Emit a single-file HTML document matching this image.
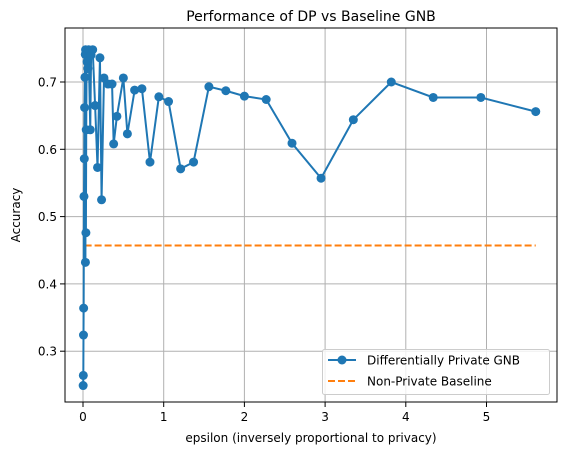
<!DOCTYPE html>
<html><head><meta charset="utf-8"><style>
body{margin:0;background:#fff;font-family:"Liberation Sans","DejaVu Sans",sans-serif}
svg text{font-family:"DejaVu Sans","Liberation Sans",sans-serif;fill:#000}
</style></head><body>
<svg id="c" width="567" height="455" viewBox="0 0 567 455"></svg>
<script>
const epsilon=[0.002,0.004,0.006,0.008,0.012,0.016,0.02,0.024,0.028,0.03,0.032,0.036,0.04,0.045,0.05,0.06,0.07,0.09,0.1,0.12,0.15,0.18,0.21,0.23,0.26,0.31,0.36,0.38,0.42,0.5,0.55,0.64,0.73,0.83,0.94,1.06,1.21,1.37,1.56,1.77,2.0,2.27,2.59,2.95,3.35,3.82,4.34,4.93,5.61];
const accuracy=[0.249,0.264,0.324,0.364,0.53,0.586,0.662,0.707,0.741,0.432,0.748,0.476,0.629,0.745,0.73,0.72,0.748,0.629,0.74,0.748,0.665,0.573,0.736,0.525,0.706,0.697,0.697,0.608,0.649,0.706,0.623,0.688,0.690,0.581,0.678,0.671,0.571,0.581,0.693,0.687,0.679,0.674,0.609,0.557,0.644,0.700,0.677,0.677,0.656];
const baseline=0.457;
const baseRange=[0.02,5.61];
const xTicks=[0,1,2,3,4,5];
const yTicks=[0.3,0.4,0.5,0.6,0.7];
const L=65,R=557,T=28,B=402;
const X=v=>83+v*80.7;
const Y=v=>82-(v-0.7)*673;
const s=document.getElementById('c');
const NS='http://www.w3.org/2000/svg';
function mk(t,a,p){const e=document.createElementNS(NS,t);for(const k in a)e.setAttribute(k,a[k]);(p||s).appendChild(e);return e;}
const grid=mk('g',{});


xTicks.forEach(v=>{mk('line',{x1:X(v),x2:X(v),y1:T,y2:B,stroke:'#b0b0b0','stroke-width':1},grid);
 mk('line',{x1:X(v),x2:X(v),y1:B,y2:B+5,stroke:'#000','stroke-width':1},grid);
 const t=mk('text',{x:X(v),y:B+19,'text-anchor':'middle','font-size':12});t.textContent=v;
 
 });
yTicks.forEach(v=>{mk('line',{x1:L,x2:R,y1:Y(v),y2:Y(v),stroke:'#b0b0b0','stroke-width':1},grid);
 mk('line',{x1:L-5,x2:L,y1:Y(v),y2:Y(v),stroke:'#000','stroke-width':1},grid);
 const t=mk('text',{x:L-8,y:Y(v)+4.5,'text-anchor':'end','font-size':12});t.textContent=v.toFixed(1);
 
 });
const bl=mk('line',{x1:X(baseRange[0]),x2:X(baseRange[1]),y1:Y(baseline),y2:Y(baseline),stroke:'#ff7f0e','stroke-width':2,'stroke-dasharray':'7,3'});


const pl=mk('polyline',{points:epsilon.map((e,i)=>X(e)+','+Y(accuracy[i])).join(' '),fill:'none',stroke:'#1f77b4','stroke-width':2});


epsilon.forEach((e,i)=>{const c=mk('circle',{cx:X(e),cy:Y(accuracy[i]),r:4.5,fill:'#1f77b4'});
 
 });
const fr=mk('rect',{x:L,y:T,width:R-L,height:B-T,fill:'none',stroke:'#000','stroke-width':1});


const ti=mk('text',{x:(L+R)/2,y:T-7,'text-anchor':'middle','font-size':14});ti.textContent='Performance of DP vs Baseline GNB';


const xl=mk('text',{x:(L+R)/2,y:442,'text-anchor':'middle','font-size':12});xl.textContent='epsilon (inversely proportional to privacy)';


const yl=mk('text',{x:0,y:0,'text-anchor':'middle','font-size':12,transform:'translate(20,'+((T+B)/2)+') rotate(-90)'});yl.textContent='Accuracy';


const lg=mk('g',{});


mk('rect',{x:322.5,y:349.5,width:227,height:45,rx:2,fill:'#fff','fill-opacity':0.8,stroke:'#ccc'},lg);
mk('line',{x1:328,x2:356,y1:360,y2:360,stroke:'#1f77b4','stroke-width':2},lg);
mk('circle',{cx:342,cy:360,r:4.5,fill:'#1f77b4'},lg);
const t1=mk('text',{x:367,y:364.5,'font-size':12},lg);t1.textContent='Differentially Private GNB';


mk('line',{x1:328,x2:356,y1:381,y2:381,stroke:'#ff7f0e','stroke-width':2,'stroke-dasharray':'7,3'},lg);
const t2=mk('text',{x:367,y:385.5,'font-size':12},lg);t2.textContent='Non-Private Baseline';


</script>
</body></html>
